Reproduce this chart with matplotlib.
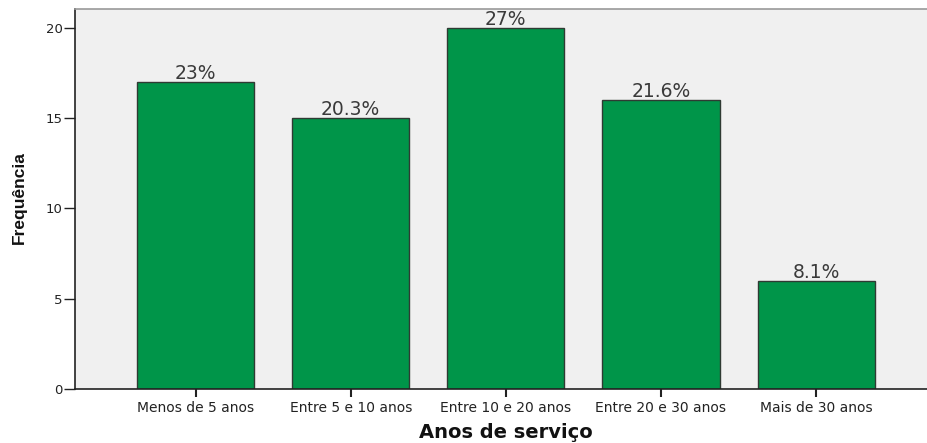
import matplotlib
matplotlib.use("Agg")
import matplotlib.pyplot as plt

categories = ["Menos de 5 anos", "Entre 5 e 10 anos", "Entre 10 e 20 anos",
              "Entre 20 e 30 anos", "Mais de 30 anos"]
counts = [17, 15, 20, 16, 6]
pct_labels = ["23%", "20.3%", "27%", "21.6%", "8.1%"]
yticks = [0, 5, 10, 15, 20]

plt.rcParams['font.family'] = ['DejaVu Sans']

fig = plt.figure(figsize=(9.28, 4.43), dpi=100)
ax = fig.add_axes([75/928, 1 - 389/443, 1 - 75/928 + 0.002, (389 - 9)/443])
ax.set_facecolor('#f0f0f0')

x = list(range(len(categories)))
ax.bar(x, counts, width=0.755, color='#009549', edgecolor='#2f3a33', linewidth=1.0, zorder=2)
for xi, c, lab in zip(x, counts, pct_labels):
    ax.text(xi, c - 0.05, lab, ha='center', va='bottom', fontsize=13.5, color='#3a3a3a')

ax.set_xlim(-0.777, 4.733)
ax.set_ylim(0, 21.05)
ax.set_xticks(x)
ax.set_xticklabels(categories, fontsize=10, color='#222222')
ax.set_yticks(yticks)
ax.set_yticklabels([str(v) for v in yticks], fontsize=9.5, color='#222222')
ax.tick_params(axis='y', direction='out', length=8, width=1, pad=1, color='#222222')
ax.tick_params(axis='x', direction='out', length=6, width=1.5, pad=3, color='#222222')

for s in ['left', 'bottom']:
    ax.spines[s].set_color('#222222')
    ax.spines[s].set_linewidth(1.2)
ax.spines['top'].set_color('#999999')
ax.spines['top'].set_linewidth(1.2)
ax.spines['right'].set_visible(False)

fig.text(506/928, 1 - 432/443, "Anos de serviço", ha='center', va='center',
         fontsize=14, fontweight='bold', color='#111111')
fig.text(19/928, 1 - 198/443, "Frequência", ha='center', va='center', rotation=90,
         fontsize=12.5, fontweight='bold', color='#111111',
         family=['Liberation Sans', 'DejaVu Sans'])

fig.savefig("out.png", dpi=100)
